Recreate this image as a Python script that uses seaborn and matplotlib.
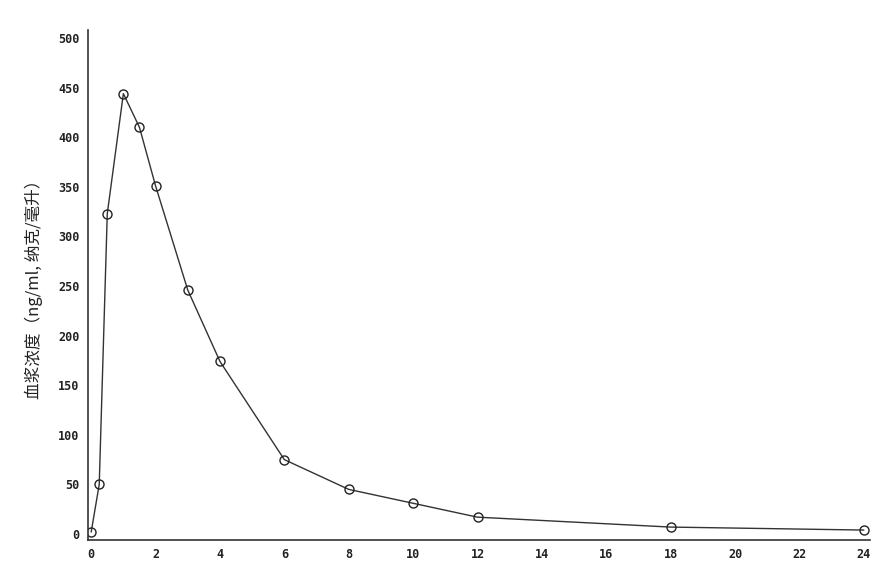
import matplotlib
matplotlib.use("Agg")
import matplotlib.pyplot as plt
import seaborn as sns
import pandas as pd

time_h = [0, 0.25, 0.5, 1, 1.5, 2, 3, 4, 6, 8, 10, 12, 18, 24]
conc = [2, 50, 323, 444, 410, 351, 246, 174, 75, 45, 31, 17, 7, 4]
x_ticks = [0, 2, 4, 6, 8, 10, 12, 14, 16, 18, 20, 22, 24]
y_ticks = [0, 50, 100, 150, 200, 250, 300, 350, 400, 450, 500]
y_label = "血浆浓度（ng/ml, 纳克/毫升）"

sns.set_theme(style="white")
plt.rcParams['font.family'] = ['Noto Sans CJK SC', 'DejaVu Sans']

df = pd.DataFrame({"t": time_h, "c": conc})

fig = plt.figure(figsize=(8.84, 5.69), dpi=100)
ax = fig.add_axes([0.0995, 0.051, 0.885, 0.896])

sns.lineplot(data=df, x="t", y="c", ax=ax, color="#333333", linewidth=1.0,
             marker="o", markersize=6.5, markerfacecolor="none",
             markeredgecolor="#222222", markeredgewidth=1.0)

ax.set_xlim(-0.1, 24.2)
ax.set_ylim(-6, 508)
ax.set_xticks(x_ticks)
ax.set_yticks(y_ticks)
ax.set_xticklabels([str(v) for v in x_ticks], fontsize=8.5, fontweight="bold",
                   family=['DejaVu Sans Mono'], color="#222222")
ax.set_yticklabels([str(v) for v in y_ticks], fontsize=8.5, fontweight="bold",
                   family=['DejaVu Sans Mono'], color="#222222")
ax.tick_params(axis="both", length=0, pad=6)
ax.set_xlabel("")
ax.set_ylabel(y_label, fontsize=12, color="#222222", labelpad=11)

for s in ["top", "right"]:
    ax.spines[s].set_visible(False)
for s in ["left", "bottom"]:
    ax.spines[s].set_color("#333333")
    ax.spines[s].set_linewidth(1.2)

fig.savefig("out.png", dpi=100)
